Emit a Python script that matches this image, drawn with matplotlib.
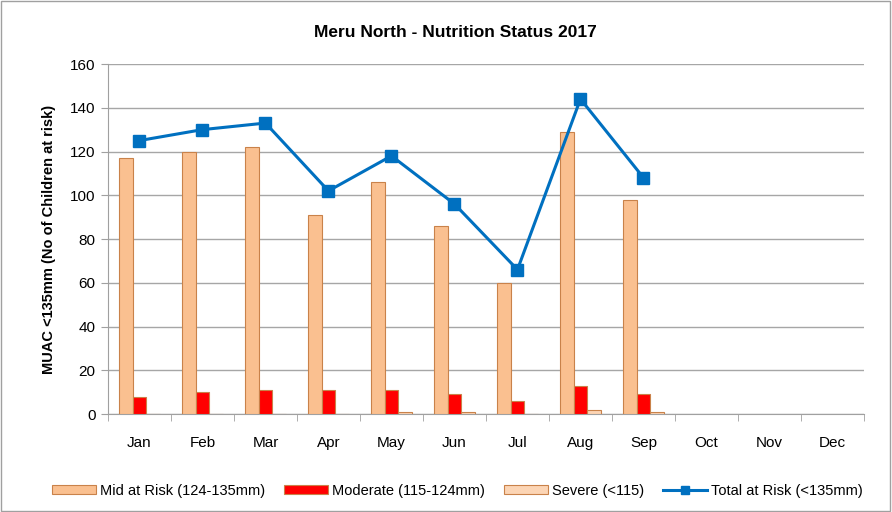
import matplotlib
matplotlib.use("Agg")
import matplotlib.pyplot as plt
import numpy as np
from matplotlib.patches import Rectangle

# ---------------------------------------------------------------------------
# Data
# ---------------------------------------------------------------------------
months = ["Jan", "Feb", "Mar", "Apr", "May", "Jun", "Jul", "Aug", "Sep", "Oct", "Nov", "Dec"]
mid_risk = [117, 120, 122, 91, 106, 86, 60, 129, 98]
moderate = [8, 10, 11, 11, 11, 9, 6, 13, 9]
severe = [0, 0, 0, 0, 1, 1, 0, 2, 1]
total_risk = [125, 130, 133, 102, 118, 96, 66, 144, 108]

plt.rcParams["font.family"] = ["Liberation Sans", "DejaVu Sans"]

fig = plt.figure(figsize=(8.92, 5.12), dpi=100)
ax = fig.add_axes([0.121, 0.1914, 0.8476, 0.6836])

x = np.arange(len(mid_risk))
w = 0.22
b1 = ax.bar(x - w, mid_risk, w, color="#FAC090", edgecolor="#C9824A", linewidth=0.8,
            label="Mid at Risk (124-135mm)", zorder=3)
b2 = ax.bar(x, moderate, w, color="#FF0000", edgecolor="#C9824A", linewidth=0.8,
            label="Moderate (115-124mm)", zorder=3)
b3 = ax.bar(x + w, severe, w, color="#FCD5B5", edgecolor="#C9824A", linewidth=0.8,
            label="Severe (<115)", zorder=3)
ln, = ax.plot(x, total_risk, color="#0070C0", linewidth=2.2, marker="s", markersize=8,
              label="Total at Risk (<135mm)", zorder=4)

ax.set_xlim(-0.5, len(months) - 0.5)
ax.set_ylim(0, 160)
ax.set_yticks(np.arange(0, 161, 20))
ax.set_xticks(np.arange(len(months)))
ax.set_xticklabels(months)
ax.set_xticks(np.arange(-0.5, len(months), 1), minor=True)
ax.tick_params(axis="x", which="major", length=0, pad=16, labelsize=11)
ax.tick_params(axis="x", which="minor", length=5, color="#A0A0A0")
ax.tick_params(axis="y", length=5, color="#A0A0A0", labelsize=11, pad=4)
ax.yaxis.grid(True, color="#A6A6A6", linewidth=1.0, zorder=0)
ax.set_axisbelow(True)
for s in ["top", "right"]:
    ax.spines[s].set_visible(False)
ax.spines["left"].set_color("#A0A0A0")
ax.spines["bottom"].set_color("#A0A0A0")

ax.set_ylabel("MUAC <135mm (No of Children at risk)", fontsize=10.5, fontweight="bold", labelpad=10)
fig.text(0.51, 0.937, "Meru North - Nutrition Status 2017", ha="center", va="center",
         fontsize=12.5, fontweight="bold")

leg = fig.legend([b1, b2, b3, ln], [b1.get_label(), b2.get_label(), b3.get_label(), ln.get_label()],
                 loc="center", bbox_to_anchor=(0.513, 0.041), ncol=4, frameon=False,
                 fontsize=10.5, handlelength=3.0, handleheight=0.6, handletextpad=0.3,
                 columnspacing=1.3, markerscale=0.75)

# outer chart frame
fig.patches.append(Rectangle((0.001, 0.002), 0.997, 0.996, transform=fig.transFigure,
                             fill=False, edgecolor="#A0A0A0", linewidth=1.0))

fig.savefig("out.png", dpi=100, facecolor="white")
